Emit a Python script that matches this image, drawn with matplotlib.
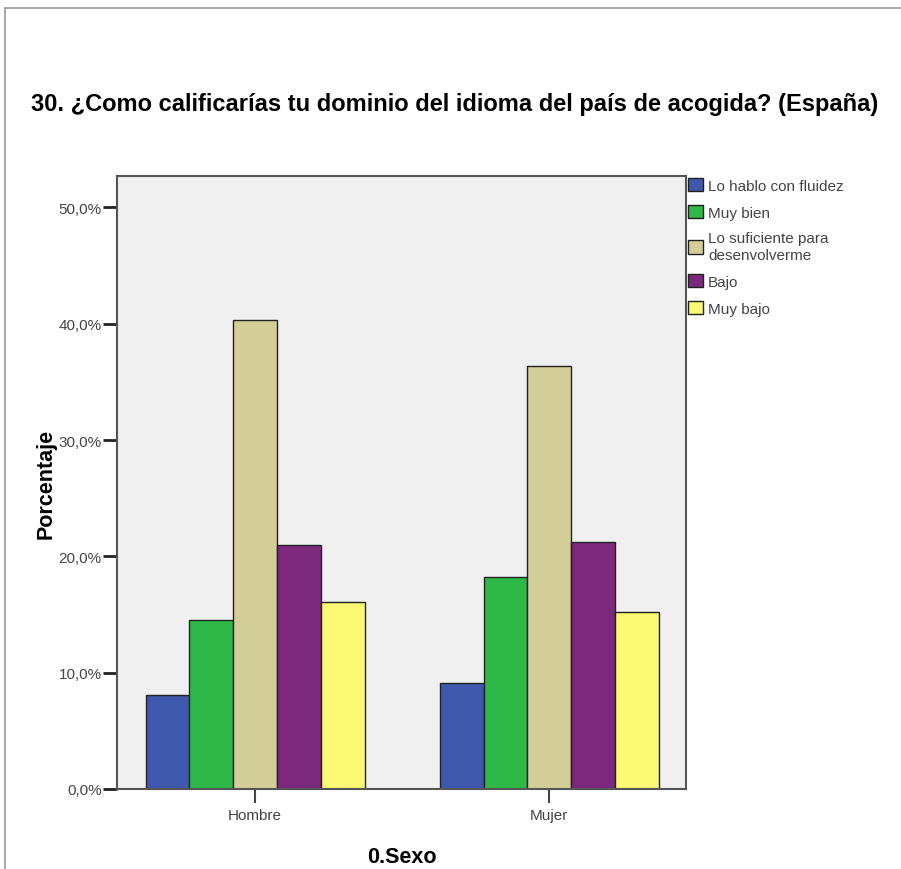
import numpy as np
import matplotlib
matplotlib.use("Agg")
from matplotlib import pyplot as plt
from matplotlib.patches import Rectangle
from matplotlib.ticker import FuncFormatter

# datos
sexo = ["Hombre", "Mujer"]
niveles = ["Lo hablo con fluidez", "Muy bien", "Lo suficiente para\ndesenvolverme", "Bajo", "Muy bajo"]
hombre = [8.1, 14.5, 40.3, 21.0, 16.1]
mujer = [9.1, 18.2, 36.4, 21.2, 15.2]
colores = ["#3E58AC", "#2EB848", "#D3CE97", "#7C287D", "#FBF873"]

fuente = ["Liberation Sans", "DejaVu Sans"]
plt.rcParams["font.family"] = fuente

fig = plt.figure(figsize=(9.01, 8.70), dpi=100)
# marco gris de la figura
fig.patches.append(Rectangle((5 / 901, -0.1), 1.2, (870 - 9) / 870 + 0.1, transform=fig.transFigure,
                             fill=False, edgecolor="#9a9a9a", linewidth=1.2))

ax = fig.add_axes([117 / 901, 80 / 870, 569 / 901, 613 / 870])
ax.set_facecolor("#F0F0F0")

x = np.arange(len(sexo))
ancho = 0.149
valores = np.array([hombre, mujer])
for i, nivel in enumerate(niveles):
  ax.bar(x + (i - 2) * ancho, valores[:, i], ancho, color=colores[i], edgecolor="#222222",
         linewidth=1.0, label=nivel, zorder=2)

ax.set_xlim(-0.47, 1.465)
ax.set_ylim(0, 52.7)
ax.set_yticks([0, 10, 20, 30, 40, 50])
ax.yaxis.set_major_formatter(FuncFormatter(lambda v, p: f"{v:.1f}%".replace(".", ",")))
ax.set_xticks(x)
ax.set_xticklabels(sexo)
ax.tick_params(axis="y", length=10, width=2, color="#222222", labelsize=11, labelcolor="#444444", pad=1)
ax.tick_params(axis="x", length=10, width=1.5, color="#444444", labelsize=11, labelcolor="#444444", pad=4)
for s in ax.spines.values():
  s.set_color("#555555")
  s.set_linewidth(1.5)

ax.set_ylabel("Porcentaje", fontsize=15.5, fontweight="bold", labelpad=1.5)
ax.set_xlabel("0.Sexo", fontsize=15.5, fontweight="bold", labelpad=17)

fig.text(0.505, 1 - 105 / 870, "30. ¿Como calificarías tu dominio del idioma del país de acogida? (España)",
         ha="center", va="center", fontsize=17, fontweight="bold")

leg = ax.legend(loc="upper left", bbox_to_anchor=(1.0, 1.0), frameon=False, fontsize=11,
                handlelength=1.0, handleheight=1.0, handletextpad=0.35, borderaxespad=0.1,
                labelspacing=0.78, borderpad=0.0)
for t in leg.get_texts():
  t.set_color("#444444")

plt.savefig("out.png", dpi=100)
plt.close()
